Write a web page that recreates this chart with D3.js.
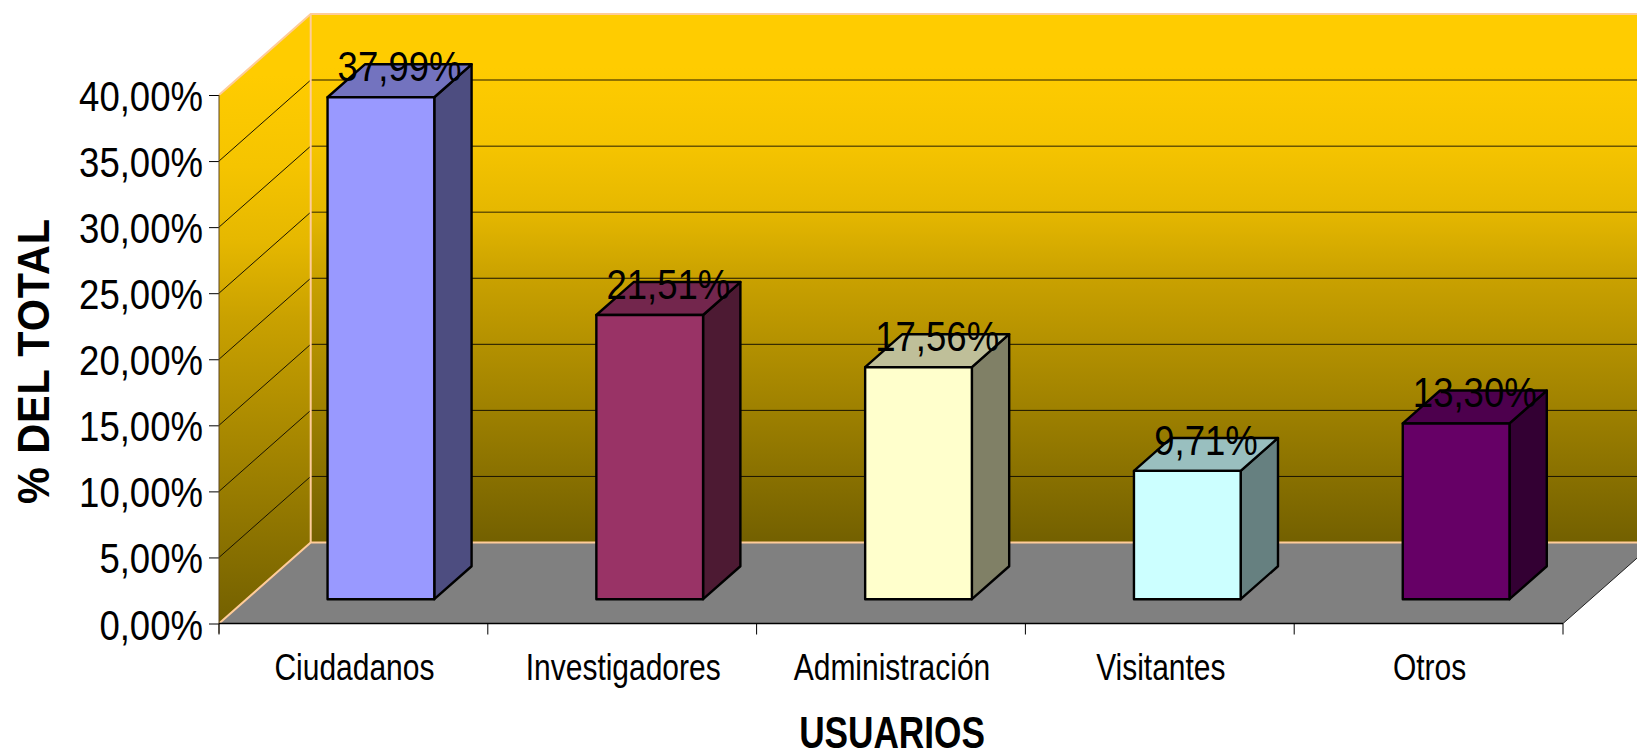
<!DOCTYPE html>
<html>
<head>
<meta charset="utf-8">
<script src="https://cdn.jsdelivr.net/npm/d3@7"></script>
<style>
  html, body { margin: 0; padding: 0; background: #fff; overflow: hidden; }
  svg { display: block; }
  text { font-family: "Liberation Sans", Arial, sans-serif; fill: #000; }
</style>
</head>
<body>
<div id="chart"></div>
<script>
const categories = ["Ciudadanos", "Investigadores", "Administración", "Visitantes", "Otros"];
const percentages = [37.99, 21.51, 17.56, 9.71, 13.30];
const valueLabels = ["37,99%", "21,51%", "17,56%", "9,71%", "13,30%"];
const yTicks = [0, 5, 10, 15, 20, 25, 30, 35, 40];
const barColors = ["#9999ff", "#993366", "#ffffcc", "#ccffff", "#660066"];

const width = 1637, height = 750;

// front edge of the box and how far the back wall is pushed away
const plotLeft = 219, plotRight = 1563, plotBottom = 623.5, plotTop = 95;
const depthX = 91.7, depthY = 81;

// where the bars stand inside that depth, as a share of it
const barFront = 0.30, barBack = 0.707;

const svg = d3.select("#chart").append("svg")
    .attr("width", width)
    .attr("height", height)
    .attr("viewBox", "0 0 " + width + " " + height);

const x = d3.scaleBand().domain(categories).range([plotLeft, plotRight]);
const y = d3.scaleLinear().domain([0, 40]).range([plotBottom, plotTop]);
const barWidth = x.step() * 0.397;

const defs = svg.append("defs");
function wallGradient(id) {
    const g = defs.append("linearGradient").attr("id", id)
        .attr("x1", 0).attr("y1", 0).attr("x2", 0).attr("y2", 1);
    [[0, "#ffcc00"], [0.1, "#ffcc00"], [0.25, "#f5c400"], [0.37, "#e6b800"], [0.5, "#c9a100"], [1, "#736000"]]
        .forEach(s => g.append("stop").attr("offset", s[0]).attr("stop-color", s[1]));
}
wallGradient("backWall");
wallGradient("sideWall");

function shade(c, k) {
    const r = d3.rgb(c);
    return d3.rgb(r.r * k, r.g * k, r.b * k).formatHex();
}

const pts = a => a.map(p => p.join(",")).join(" ");
const backX = plotLeft + depthX, backY = -depthY;

// floor
svg.append("polygon")
    .attr("points", pts([[plotLeft, plotBottom], [plotRight, plotBottom], [plotRight + depthX, plotBottom + backY], [backX, plotBottom + backY]]))
    .attr("fill", "#808080");
svg.append("line")
    .attr("x1", plotRight).attr("y1", plotBottom)
    .attr("x2", plotRight + depthX).attr("y2", plotBottom + backY)
    .attr("stroke", "#222").attr("stroke-width", 1);

// walls
svg.append("rect")
    .attr("x", backX).attr("y", y(40) + backY)
    .attr("width", width - backX).attr("height", y(0) - y(40))
    .attr("fill", "url(#backWall)");
svg.append("polygon")
    .attr("points", pts([[plotLeft, y(40)], [backX, y(40) + backY], [backX, y(0) + backY], [plotLeft, y(0)]]))
    .attr("fill", "url(#sideWall)");

// gridlines: the upper ones on the back wall look washed out in the original
const grid = svg.append("g").attr("fill", "none");
yTicks.filter(d => d > 0 && d < 40).forEach(function (d) {
    grid.append("line")
        .attr("x1", plotLeft).attr("y1", y(d))
        .attr("x2", backX).attr("y2", y(d) + backY)
        .attr("stroke", "#1a1400").attr("stroke-width", 1);
    grid.append("line")
        .attr("x1", backX).attr("y1", y(d) + backY)
        .attr("x2", width).attr("y2", y(d) + backY)
        .attr("stroke", d >= 25 ? "#6b5500" : "#1a1400")
        .attr("stroke-width", d >= 25 ? 1.5 : 1);
});

// wall edges
const edge = svg.append("g").attr("stroke", "#ffcc99").attr("stroke-width", 2).attr("fill", "none");
edge.append("polyline")
    .attr("points", pts([[plotLeft, y(40)], [backX, y(40) + backY], [width, y(40) + backY]]));
edge.append("polyline")
    .attr("points", pts([[plotLeft, y(0)], [backX, y(0) + backY], [width, y(0) + backY]]));
edge.append("line")
    .attr("x1", backX).attr("y1", y(40) + backY)
    .attr("x2", backX).attr("y2", y(0) + backY);

// bars
const bars = svg.append("g").selectAll("g")
    .data(categories)
    .join("g")
    .attr("stroke", "#000")
    .attr("stroke-width", 2.4)
    .attr("stroke-linejoin", "round");

const barX = d => x(d) + (x.step() - barWidth) / 2 + barFront * depthX;
const barY0 = plotBottom - barFront * depthY;
const barTop = i => barY0 - (y(0) - y(percentages[i]));
const dx = (barBack - barFront) * depthX, dy = (barBack - barFront) * depthY;

bars.append("polygon")
    .attr("points", (d, i) => pts([[barX(d) + barWidth, barTop(i)], [barX(d) + barWidth + dx, barTop(i) - dy], [barX(d) + barWidth + dx, barY0 - dy], [barX(d) + barWidth, barY0]]))
    .attr("fill", (d, i) => shade(barColors[i], 0.5));
bars.append("polygon")
    .attr("points", (d, i) => pts([[barX(d), barTop(i)], [barX(d) + dx, barTop(i) - dy], [barX(d) + barWidth + dx, barTop(i) - dy], [barX(d) + barWidth, barTop(i)]]))
    .attr("fill", (d, i) => shade(barColors[i], 0.75));
bars.append("rect")
    .attr("x", d => barX(d))
    .attr("y", (d, i) => barTop(i))
    .attr("width", barWidth)
    .attr("height", (d, i) => barY0 - barTop(i))
    .attr("fill", (d, i) => barColors[i]);

// value labels, sitting over the top face
svg.append("g").selectAll("text")
    .data(categories)
    .join("text")
    .attr("transform", (d, i) => "translate(" + (barX(d) + (barWidth + dx) / 2) + "," + (barTop(i) - 16) + ") scale(0.85,1)")
    .attr("text-anchor", "middle")
    .attr("font-size", 43)
    .text((d, i) => valueLabels[i]);

// y axis
const yAxis = svg.append("g")
    .attr("transform", "translate(" + plotLeft + ",0)")
    .call(d3.axisLeft(y).tickValues(yTicks).tickSize(10).tickPadding(0)
        .tickFormat(d => d3.format(".2f")(d).replace(".", ",") + "%"));
yAxis.attr("font-family", null).attr("font-size", null);
yAxis.select(".domain").remove();
yAxis.selectAll("line").attr("stroke", "#000").attr("stroke-width", 1);
yAxis.selectAll("text")
    .attr("x", null).attr("dy", null)
    .attr("transform", "translate(-16,15.5) scale(0.85,1)")
    .attr("font-size", 43);
svg.append("line")
    .attr("x1", plotLeft).attr("y1", plotTop).attr("x2", plotLeft).attr("y2", plotBottom + 10)
    .attr("stroke", "#5a4420").attr("stroke-width", 1);

// x axis: ticks go on the band edges, labels in the middle
const xAxis = svg.append("g")
    .attr("transform", "translate(0," + plotBottom + ")")
    .call(d3.axisBottom(x).tickSize(0).tickPadding(0));
xAxis.attr("font-family", null).attr("font-size", null);
xAxis.select(".domain").remove();
xAxis.selectAll("text")
    .attr("y", null).attr("dy", null)
    .attr("transform", "translate(1,56) scale(0.81,1)")
    .attr("font-size", 37);
svg.append("line")
    .attr("x1", plotLeft).attr("y1", plotBottom).attr("x2", plotRight).attr("y2", plotBottom)
    .attr("stroke", "#000").attr("stroke-width", 1.5);
svg.append("g").selectAll("line")
    .data(d3.range(categories.length + 1))
    .join("line")
    .attr("x1", i => plotLeft + i * x.step())
    .attr("x2", i => plotLeft + i * x.step())
    .attr("y1", plotBottom)
    .attr("y2", plotBottom + 11)
    .attr("stroke", "#000").attr("stroke-width", 1);

// axis titles
svg.append("text")
    .attr("transform", "translate(" + ((plotLeft + plotRight) / 2 + 1) + ",748) scale(0.8,1)")
    .attr("text-anchor", "middle")
    .attr("font-size", 44)
    .attr("font-weight", "bold")
    .text("USUARIOS");
svg.append("text")
    .attr("transform", "translate(49,361) rotate(-90) scale(0.94,1)")
    .attr("text-anchor", "middle")
    .attr("font-size", 44)
    .attr("font-weight", "bold")
    .attr("letter-spacing", 1)
    .text("% DEL TOTAL");
</script>
</body>
</html>
